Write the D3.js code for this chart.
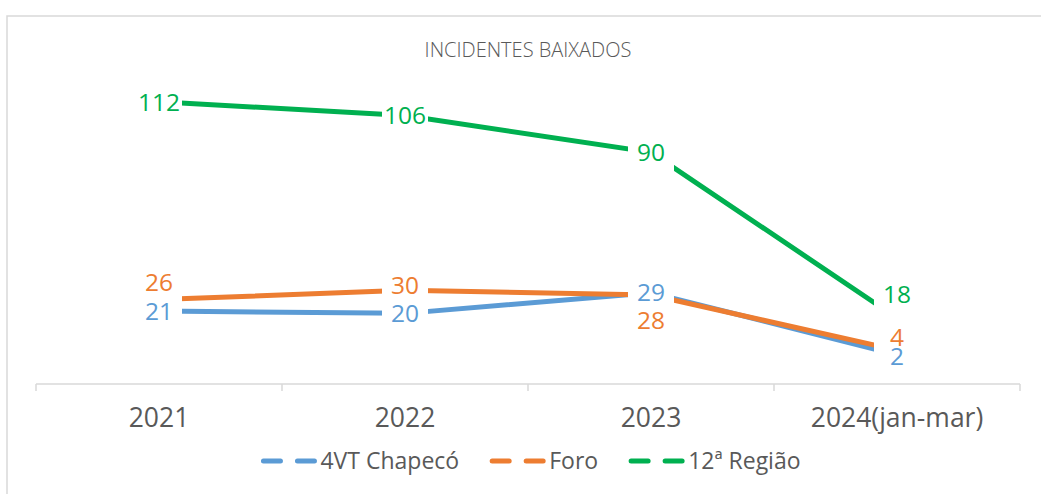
<!DOCTYPE html>
<html lang="pt">
<head>
<meta charset="UTF-8">
<script src="https://d3js.org/d3.v7.min.js"></script>
<title>Incidentes baixados</title>
<style>
  body { margin: 0; background: #fff; }
  svg { display: block; font-family: "Open Sans", "Noto Sans", sans-serif; }
  .axis-label { fill: #595959; font-size: 26.5px; }
  .legend text { fill: #595959; font-size: 23px; }
  .title { fill: #595959; font-size: 20px; font-weight: 300; }
  .value { font-size: 24.5px; }
</style>
</head>
<body>
<script>
// data
var categories = ["2021", "2022", "2023", "2024(jan-mar)"];
var seriesNames = ["4VT Chapecó", "Foro", "12ª Região"];
var vtChapeco = [21, 20, 29, 2];
var foro = [26, 30, 28, 4];
var regiao12 = [112, 106, 90, 18];
var seriesColors = ["#5B9BD5", "#ED7D31", "#00B050"];

// manual label nudges (px, vertical) like in the original sheet
var labelNudge = [
  [0, 0, 0, 1],
  [-17, -5.5, 25.5, -13],
  [0, 0, 0, -24]
];

var series = [vtChapeco, foro, regiao12].map(function(vals, i) {
  return { name: seriesNames[i], color: seriesColors[i], values: vals, nudge: labelNudge[i] };
});

var W = 1041, H = 494;
var svg = d3.select("body").append("svg")
    .attr("width", W)
    .attr("height", H);

// chart frame
svg.append("rect")
    .attr("x", 7).attr("y", 16)
    .attr("width", W + 20).attr("height", H + 20)
    .attr("fill", "none")
    .attr("stroke", "#d9d9d9")
    .attr("stroke-width", 1.5);

// title
svg.append("text")
    .attr("class", "title")
    .attr("x", 528)
    .attr("y", 57)
    .attr("text-anchor", "middle")
    .text("INCIDENTES BAIXADOS");

var x = d3.scaleBand().domain(categories).range([36, 1020]);
var xc = function(c) { return x(c) + x.bandwidth() / 2; };
var y = d3.scaleLinear().domain([-10.7, 120]).range([384, 83.3]);
var axisY = y(-10.7);

// category axis
var ax = svg.append("g");
ax.append("line")
    .attr("x1", x.range()[0]).attr("x2", x.range()[1])
    .attr("y1", axisY).attr("y2", axisY)
    .attr("stroke", "#d9d9d9").attr("stroke-width", 1.5);
var bounds = categories.map(function(c) { return x(c); }).concat([x.range()[1]]);
ax.selectAll(".tick")
    .data(bounds)
  .enter().append("line")
    .attr("x1", function(d) { return d; }).attr("x2", function(d) { return d; })
    .attr("y1", axisY).attr("y2", axisY + 7)
    .attr("stroke", "#d9d9d9").attr("stroke-width", 1.5);
ax.selectAll(".axis-label")
    .data(categories)
  .enter().append("text")
    .attr("class", "axis-label")
    .attr("x", xc)
    .attr("y", 427)
    .attr("text-anchor", "middle")
    .text(function(d) { return d; });

// lines
var line = d3.line()
    .x(function(d, i) { return xc(categories[i]); })
    .y(function(d) { return y(d); });

series.forEach(function(s) {
  var g = svg.append("g");
  g.append("path")
      .datum(s.values)
      .attr("d", line)
      .attr("fill", "none")
      .attr("stroke", s.color)
      .attr("stroke-width", 5);
  // white label boxes hide the line around each point
  g.selectAll("rect")
      .data(s.values)
    .enter().append("rect")
      .attr("x", function(d, i) { return xc(categories[i]) - 23; })
      .attr("y", function(d) { return y(d) - 23; })
      .attr("width", 46)
      .attr("height", 46)
      .attr("fill", "#fff");
});

// value labels
series.forEach(function(s) {
  svg.append("g").selectAll("text")
      .data(s.values)
    .enter().append("text")
      .attr("class", "value")
      .attr("x", function(d, i) { return xc(categories[i]); })
      .attr("y", function(d, i) { return y(d) + s.nudge[i]; })
      .attr("dy", "0.36em")
      .attr("text-anchor", "middle")
      .attr("fill", s.color)
      .text(function(d) { return d; });
});

// legend
var legend = svg.append("g").attr("class", "legend");
var cursor = 0;
series.forEach(function(s, i) {
  var item = legend.append("g").attr("transform", "translate(" + cursor + ",0)");
  item.append("line")
      .attr("x1", 2).attr("x2", 55)
      .attr("y1", 0).attr("y2", 0)
      .attr("stroke", s.color)
      .attr("stroke-width", 5)
      .attr("stroke-linecap", "round")
      .attr("stroke-dasharray", "17,17");
  var t = item.append("text")
      .attr("x", 59)
      .attr("y", 0)
      .attr("dy", "0.36em")
      .text(s.name);
  cursor += 59 + t.node().getComputedTextLength() + 31;
});
var legendW = cursor - 31;
legend.attr("transform", "translate(" + (531 - legendW / 2) + ",461)");
</script>
</body>
</html>
